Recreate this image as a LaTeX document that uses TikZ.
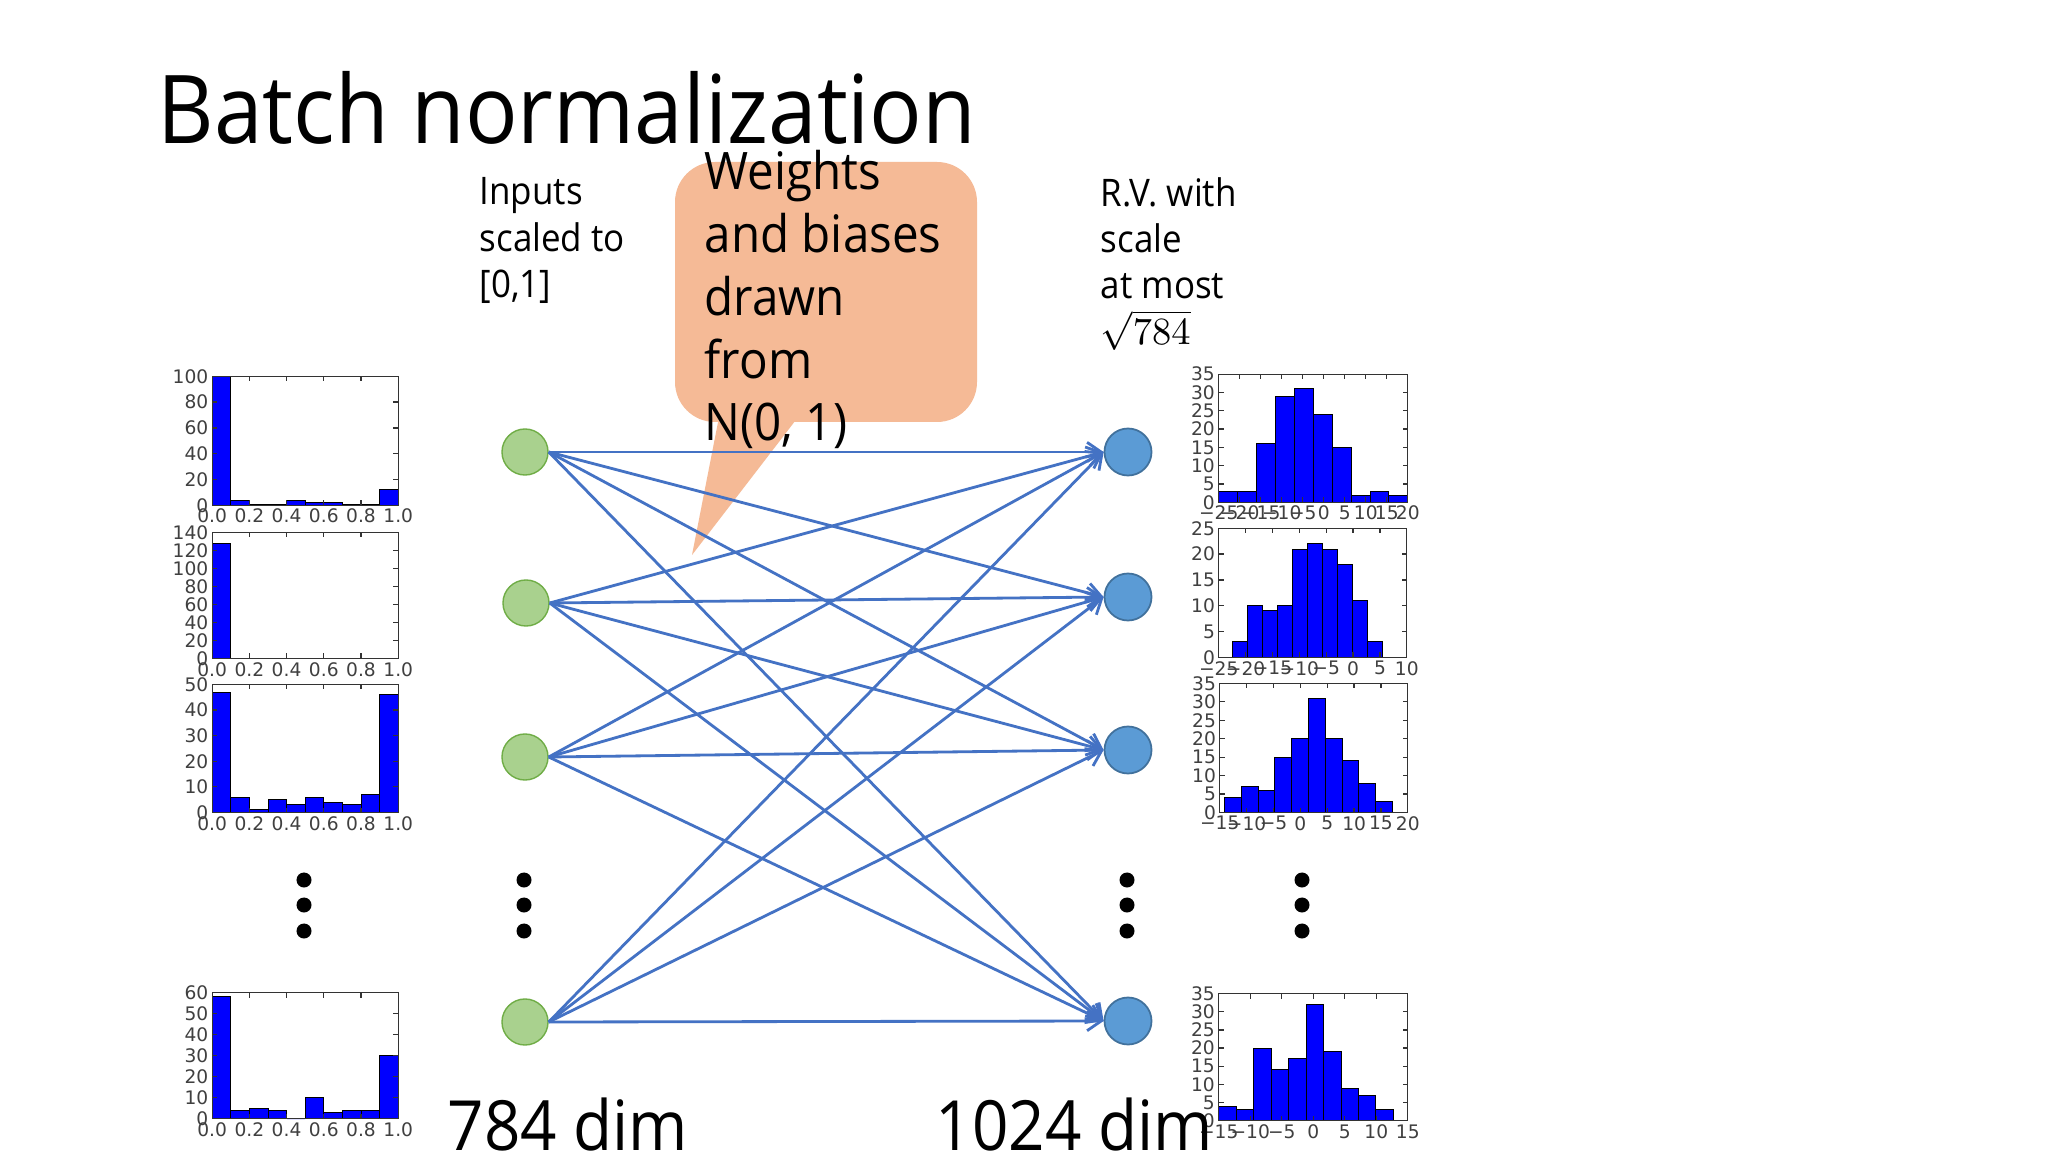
\documentclass[tikz,border=0pt]{standalone}
\usepackage{fontspec}
\setmainfont{Open Sans}[FakeStretch=0.92]
\newfontfamily\mpl{DejaVu Sans}
\usetikzlibrary{arrows.meta}
\definecolor{peach}{RGB}{245,186,150}
\definecolor{linkblue}{RGB}{68,114,196}
\definecolor{gfill}{RGB}{169,209,142}
\definecolor{gdraw}{RGB}{112,173,71}
\definecolor{bfill}{RGB}{91,155,213}
\definecolor{bdraw}{RGB}{65,113,156}
\definecolor{barblue}{RGB}{0,0,255}
\tikzset{
  innode/.style={circle, fill=gfill, draw=gdraw, line width=0.4pt, minimum size=0.46cm, inner sep=0pt},
  outnode/.style={circle, fill=bfill, draw=bdraw, line width=0.5pt, minimum size=0.47cm, inner sep=0pt},
  link/.style={draw=linkblue, line width=0.8pt, -{Straight Barb[length=4pt,width=5.5pt]}},
  hframe/.style={draw=black!80, line width=0.35pt},
  hbar/.style={fill=barblue, draw=black, line width=0.25pt},
  ticklab/.style={font=\mpl\fontsize{5.3}{5.5}\selectfont, text=black!75, inner sep=0.9pt},
  txt/.style={anchor=base west, inner sep=0pt, align=left},
}
\newcommand\histbars[3]{%
  \foreach \h [count=\i from 0] in {#3} {
    \draw[hbar] ({#1+\i*#2},0) rectangle ({#1+(\i+1)*#2},\h);
  }
}
\newcommand\histaxes[6]{%
  \foreach \yy [count=\k] in {0,#5,...,#4} {
    \draw[hframe] (#2,\yy) -- ++(1.4pt,0);
    \draw[hframe] (#3,\yy) -- ++(-1.4pt,0);
    \node[ticklab, anchor=east] (#1y\k) at (#2,\yy) {\yy};
  }
  \foreach \xv/\xl [count=\k] in {#6} {
    \draw[hframe] (\xv,0) -- ++(0,1.4pt);
    \draw[hframe] (\xv,#4) -- ++(0,-1.4pt);
    \node[ticklab, anchor=north] (#1x\k) at (\xv,0) {\xl};
  }
  \draw[hframe] (#2,0) rectangle (#3,#4);
}
\begin{document}
\begin{tikzpicture}[x=0.01cm, y=-0.01cm]
\fill[white] (0,0) rectangle (2048,1152);
\useasboundingbox (0,0) rectangle (2048,1152);

% title
\node[txt, font=\fontsize{27}{32}\selectfont] (title) at (157,144) {Batch normalization};

% callout
\fill[peach, rounded corners=0.4cm] (675,162) rectangle (977,422);
\fill[peach] (720,412) -- (692,555) -- (802,412) -- cycle;

% texts (anchored at the baseline of the last line)
\node[txt, font=\fontsize{10.8}{13.3}\selectfont] (inp) at (479,298) {Inputs\\scaled to\\{[0,1]}};
\node[txt, font=\fontsize{10.8}{13.1}\selectfont] (rv) at (1100,345) {R.V. with\\scale\\at most\\$\sqrt{784}$};

% nodes
\node[innode] (i1) at (525,452) {};
\node[innode] (i2) at (526,603) {};
\node[innode] (i3) at (525,757) {};
\node[innode] (i4) at (525,1022) {};
\node[outnode] (o1) at (1128,452) {};
\node[outnode] (o2) at (1128,597) {};
\node[outnode] (o3) at (1128,750) {};
\node[outnode] (o4) at (1128,1021) {};

\foreach \a in {1,...,4} \foreach \b in {1,...,4} \draw[link] (i\a.east) -- (o\b.west);

\node[txt, font=\fontsize{14.7}{17.9}\selectfont] (callout) at (704,441) {Weights\\and biases\\drawn\\from\\N(0, 1)};

% dots
\foreach \x in {304,524,1127,1302} \foreach \y in {880,905,931} \fill (\x,\y) circle (0.075cm);

% bottom labels
\node[txt, font=\fontsize{19.7}{24}\selectfont] (d784) at (447,1150) {784 dim};

% left histograms
\begin{scope}[shift={(2.12cm,-5.05cm)}, x=1.86cm, y=0.0129cm]
  \histbars{0}{0.1}{100,4,1,1,4,2,2,1,1,12}
  \histaxes{hA}{0}{1}{100}{20}{0/0.0,0.2/0.2,0.4/0.4,0.6/0.6,0.8/0.8,1/1.0}
\end{scope}
\begin{scope}[shift={(2.12cm,-6.58cm)}, x=1.86cm, y=0.009cm]
  \histbars{0}{0.1}{128,0,0,0,0,0,0,0,0,0}
  \histaxes{hB}{0}{1}{140}{20}{0/0.0,0.2/0.2,0.4/0.4,0.6/0.6,0.8/0.8,1/1.0}
\end{scope}
\begin{scope}[shift={(2.12cm,-8.12cm)}, x=1.86cm, y=0.0256cm]
  \histbars{0}{0.1}{47,6,1,5,3,6,4,3,7,46}
  \histaxes{hC}{0}{1}{50}{10}{0/0.0,0.2/0.2,0.4/0.4,0.6/0.6,0.8/0.8,1/1.0}
\end{scope}
\begin{scope}[shift={(2.12cm,-11.18cm)}, x=1.86cm, y=0.021cm]
  \histbars{0}{0.1}{58,4,5,4,0,10,3,4,4,30}
  \histaxes{hD}{0}{1}{60}{10}{0/0.0,0.2/0.2,0.4/0.4,0.6/0.6,0.8/0.8,1/1.0}
\end{scope}

% right histograms (local x = 0 at data value 0)
\begin{scope}[shift={(13.23cm,-5.02cm)}, x=0.042cm, y=0.03657cm]
  \histbars{-25}{4.5}{3,3,16,29,31,24,15,2,3,2}
  \histaxes{hE}{-25}{20}{35}{5}{-25/−25,-20/−20,-15/−15,-10/−10,-5/−5,0/0,5/5,10/10,15/15,20/20}
\end{scope}
\begin{scope}[shift={(13.523cm,-6.57cm)}, x=0.05371cm, y=0.0516cm]
  \histbars{-22.5}{2.8}{3,10,9,10,21,22,21,18,11,3}
  \histaxes{hF}{-25}{10}{25}{5}{-25/−25,-20/−20,-15/−15,-10/−10,-5/−5,0/0,5/5,10/10}
\end{scope}
\begin{scope}[shift={(12.996cm,-8.12cm)}, x=0.05371cm, y=0.03686cm]
  \histbars{-14.1}{3.12}{4,7,6,15,20,31,20,14,8,3}
  \histaxes{hG}{-15}{20}{35}{5}{-15/−15,-10/−10,-5/−5,0/0,5/5,10/10,15/15,20/20}
\end{scope}
\begin{scope}[shift={(13.125cm,-11.20cm)}, x=0.063cm, y=0.03629cm]
  \histbars{-15}{2.77}{4,3,20,14,17,32,19,9,7,3}
  \histaxes{hH}{-15}{15}{35}{5}{-15/−15,-10/−10,-5/−5,0/0,5/5,10/10,15/15}
\end{scope}

\node[txt, font=\fontsize{19.7}{24}\selectfont] (d1024) at (935,1150) {1024 dim};
\end{tikzpicture}
\end{document}
